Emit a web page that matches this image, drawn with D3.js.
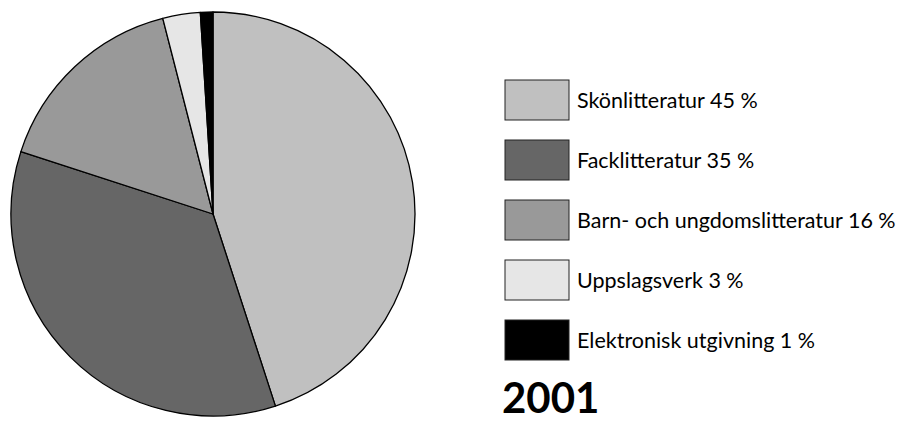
<!DOCTYPE html>
<html>
<head>
<meta charset="utf-8">
<script src="https://cdn.jsdelivr.net/npm/d3@7"></script>
<style>
  body { margin: 0; background: #fff; }
  text { font-family: Lato, "Open Sans", sans-serif; fill: #000; }
</style>
</head>
<body>
<div id="chart"></div>
<script>
// data
var categories = ["Skönlitteratur", "Facklitteratur", "Barn- och ungdomslitteratur", "Uppslagsverk", "Elektronisk utgivning"];
var shares = [45, 35, 16, 3, 1];
var fills = ["#c0c0c0", "#666666", "#999999", "#e6e6e6", "#000000"];
var yearLabel = "2001";

var svgWidth = 910;
var svgHeight = 423;

var svg = d3.select("#chart")
  .append("svg")
  .attr("width", svgWidth)
  .attr("height", svgHeight);

var rows = categories.map(function(c, i) {
  return { name: c, value: shares[i], fill: fills[i] };
});

// pie
var radius = 202;
var pieGroup = svg.append("g")
  .attr("transform", "translate(213, 214)");

var pie = d3.pie()
  .sort(null)
  .value(d => d.value);

var arc = d3.arc()
  .innerRadius(0)
  .outerRadius(radius);

pieGroup.selectAll("path")
  .data(pie(rows))
  .enter()
  .append("path")
  .attr("d", arc)
  .attr("fill", d => d.data.fill)
  .attr("stroke", "#000")
  .attr("stroke-width", 1.3)
  .attr("stroke-linejoin", "round");

// legend
var legendY = d3.scaleBand()
  .domain(categories)
  .range([80, 360])
  .paddingInner(1 / 3);

var legend = svg.append("g");

var items = legend.selectAll("g")
  .data(rows)
  .enter()
  .append("g")
  .attr("transform", d => `translate(505, ${legendY(d.name)})`);

items.append("rect")
  .attr("width", 64)
  .attr("height", legendY.bandwidth())
  .attr("fill", d => d.fill)
  .attr("stroke", "#222")
  .attr("stroke-width", 1);

items.append("text")
  .attr("x", 72)
  .attr("y", 28)
  .style("font-size", "21.5px")
  .text(d => `${d.name} ${d.value} %`);

svg.append("text")
  .attr("x", 502)
  .attr("y", 413)
  .style("font-size", "42px")
  .style("font-weight", "bold")
  .text(yearLabel);
</script>
</body>
</html>
